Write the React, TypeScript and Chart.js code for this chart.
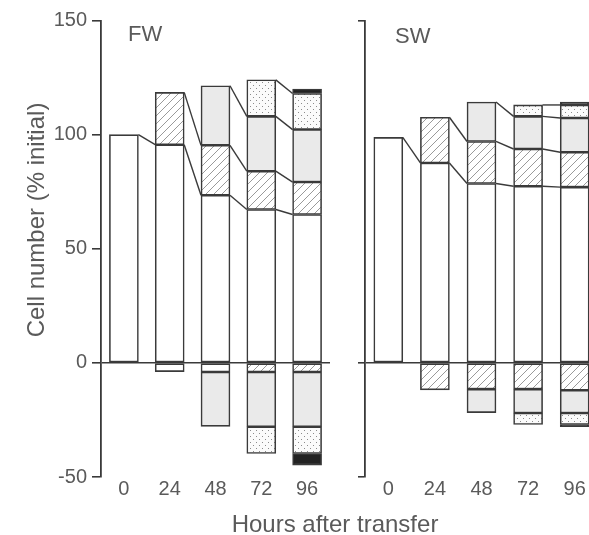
import React, { useEffect, useRef } from 'react';
import { Chart, registerables } from 'chart.js';
Chart.register(...registerables);

// ---------- data ----------
const hours = ['0', '24', '48', '72', '96'];
const yTicks = [-50, 0, 50, 100, 150];

// FW: positive segments (bottom to top)
const fwWhite = [100, 95.6, 73.4, 67.2, 65.0];
const fwHatched = [null, 22.9, 21.9, 16.8, 14.2];
const fwGrey = [null, null, 26.1, 24.0, 23.0];
const fwDotted = [null, null, null, 16.0, 15.8];
const fwBlack = [null, null, null, null, 2.0];
// FW: negative segments (top to bottom)
const fwLossFirst = [null, -3.8, -4.0, -4.0, -4.0];
const fwLossGrey = [null, null, -23.8, -24.0, -24.0];
const fwLossDotted = [null, null, null, -11.7, -11.7];
const fwLossBlack = [null, null, null, null, -5.1];

// SW: positive segments
const swWhite = [98.8, 87.6, 78.6, 77.4, 77.0];
const swHatched = [null, 20.0, 18.4, 16.3, 15.3];
const swGrey = [null, null, 17.3, 14.3, 15.0];
const swDotted = [null, null, null, 5.0, 5.7];
const swBlack = [null, null, null, null, 1.3];
// SW: negative segments
const swLossHatched = [null, -11.8, -11.5, -11.5, -12.0];
const swLossGrey = [null, null, -10.3, -10.5, -10.0];
const swLossDotted = [null, null, null, -5.0, -5.0];
const swLossBlack = [null, null, null, null, -1.0];

// ---------- styles ----------
const INK = '#3a3a3a';
const TEXT = '#5a5a5a';
const FONT = "'Liberation Sans', Arial, Helvetica, sans-serif";
const CLEAR = 'rgba(0,0,0,0)';

function makePatterns() {
  const hc = document.createElement('canvas');
  hc.width = 8; hc.height = 8;
  const h = hc.getContext('2d')!;
  h.fillStyle = '#ffffff'; h.fillRect(0, 0, 8, 8);
  h.strokeStyle = '#9a9a9a'; h.lineWidth = 1;
  h.beginPath(); h.moveTo(-1, 9); h.lineTo(9, -1); h.stroke();
  h.beginPath(); h.moveTo(-1, 1); h.lineTo(1, -1); h.stroke();
  h.beginPath(); h.moveTo(7, 9); h.lineTo(9, 7); h.stroke();
  const hatch = h.createPattern(hc, 'repeat');

  const dc = document.createElement('canvas');
  dc.width = 6; dc.height = 6;
  const d = dc.getContext('2d')!;
  d.fillStyle = '#fbfbfb'; d.fillRect(0, 0, 6, 6);
  d.fillStyle = '#8c8c8c';
  d.fillRect(1, 1, 1, 1);
  d.fillRect(4, 4, 1, 1);
  const dots = d.createPattern(dc, 'repeat');
  return { hatch, dots, grey: '#eaeaea', black: '#222222', white: '#ffffff' };
}

function seg(data: (number | null)[], fill: any) {
  return {
    data,
    backgroundColor: fill,
    borderColor: INK,
    borderWidth: 1.6,
    borderSkipped: false as const,
    stack: 's',
    barThickness: 29,
  };
}

const connectors = {
  id: 'connectors',
  afterDatasetsDraw(chart: any) {
    const ctx = chart.ctx;
    ctx.save();
    ctx.strokeStyle = INK;
    ctx.lineWidth = 1.4;
    for (let k = 0; k < 5; k++) {
      const meta = chart.getDatasetMeta(k);
      const data = chart.data.datasets[k].data;
      for (let i = 0; i < data.length - 1; i++) {
        if (data[i] == null || data[i + 1] == null) continue;
        const a = meta.data[i];
        const b = meta.data[i + 1];
        ctx.beginPath();
        ctx.moveTo(a.x + a.width / 2, a.y);
        ctx.lineTo(b.x - b.width / 2, b.y);
        ctx.stroke();
      }
    }
    ctx.restore();
  },
};

const panelText = {
  id: 'panelText',
  afterDraw(chart: any, _args: any, opts: any) {
    const ctx = chart.ctx;
    const area = chart.chartArea;
    ctx.save();
    ctx.fillStyle = TEXT;
    ctx.font = `22px ${FONT}`;
    ctx.textBaseline = 'middle';
    ctx.textAlign = 'left';
    ctx.fillText(opts.label, area.left + opts.dx, area.top + opts.dy);
    if (opts.yTitle) {
      ctx.font = `24px ${FONT}`;
      ctx.translate(opts.yTitleX, opts.yTitleY);
      ctx.rotate(-Math.PI / 2);
      ctx.textAlign = 'center';
      ctx.fillText(opts.yTitle, 0, 0);
    }
    ctx.restore();
  },
};

function makeConfig(side: 'FW' | 'SW', P: any): any {
  const left = side === 'FW';
  const datasets = left
    ? [
        seg(fwWhite, P.white), seg(fwHatched, P.hatch), seg(fwGrey, P.grey), seg(fwDotted, P.dots), seg(fwBlack, P.black),
        seg(fwLossFirst, [P.white, P.white, P.white, P.hatch, P.hatch]), seg(fwLossGrey, P.grey), seg(fwLossDotted, P.dots), seg(fwLossBlack, P.black),
      ]
    : [
        seg(swWhite, P.white), seg(swHatched, P.hatch), seg(swGrey, P.grey), seg(swDotted, P.dots), seg(swBlack, P.black),
        seg(swLossHatched, P.hatch), seg(swLossGrey, P.grey), seg(swLossDotted, P.dots), seg(swLossBlack, P.black),
      ];
  return {
    type: 'bar',
    data: { labels: hours, datasets },
    plugins: [connectors, panelText],
    options: {
      responsive: false,
      animation: false,
      events: [],
      layout: { padding: { top: 20.5, right: left ? 15 : 7, bottom: 0, left: 0 } },
      plugins: {
        legend: { display: false },
        tooltip: { enabled: false },
        title: { display: false },
        panelText: left
          ? { label: 'FW', dx: 27, dy: 14, yTitle: 'Cell number (% initial)', yTitleX: 37, yTitleY: 220 }
          : { label: 'SW', dx: 30, dy: 16 },
      },
      scales: {
        x: {
          stacked: true,
          grid: { display: false, drawTicks: false },
          border: { display: false },
          ticks: { color: TEXT, font: { family: FONT, size: 20 }, padding: 0 },
          afterFit: (s: any) => { s.height = 58; },
        },
        y: {
          stacked: true,
          min: -50,
          max: 150,
          afterBuildTicks: (s: any) => { s.ticks = yTicks.map((v) => ({ value: v })); },
          afterFit: (s: any) => { s.width = left ? 101 : 20; },
          ticks: { display: left, color: TEXT, font: { family: FONT, size: 20 }, padding: 5 },
          grid: {
            drawOnChartArea: true,
            color: (c: any) => (c.tick && c.tick.value === 0 ? INK : CLEAR),
            tickColor: (c: any) => (left || (c.tick && c.tick.value !== 50 && c.tick.value !== 100) ? INK : CLEAR),
            tickLength: left ? 9 : 7,
            lineWidth: 1.6,
            tickWidth: 1.6,
          },
          border: { display: true, color: INK, width: 1.8 },
        },
      },
    },
  };
}

function Panel({ side, x, w }: { side: 'FW' | 'SW'; x: number; w: number }) {
  const ref = useRef<HTMLCanvasElement>(null);
  useEffect(() => {
    const P = makePatterns();
    const chart = new Chart(ref.current!, makeConfig(side, P));
    return () => chart.destroy();
  }, [side]);
  return (
    <canvas
      ref={ref}
      width={w}
      height={535}
      style={{ position: 'absolute', left: x, top: 0, width: w, height: 535 }}
    />
  );
}

export default function App() {
  return (
    <div
      style={{
        position: 'fixed', left: 0, top: 0, width: 589, height: 535,
        overflow: 'hidden', background: '#ffffff',
      }}
    >
      <Panel side="FW" x={0} w={345} />
      <Panel side="SW" x={345} w={260} />
      <div
        style={{
          position: 'absolute', left: 185, top: 510, width: 300, textAlign: 'center',
          fontFamily: FONT, fontSize: 24, lineHeight: '27px', color: TEXT, whiteSpace: 'nowrap',
        }}
      >
        Hours after transfer
      </div>
    </div>
  );
}
